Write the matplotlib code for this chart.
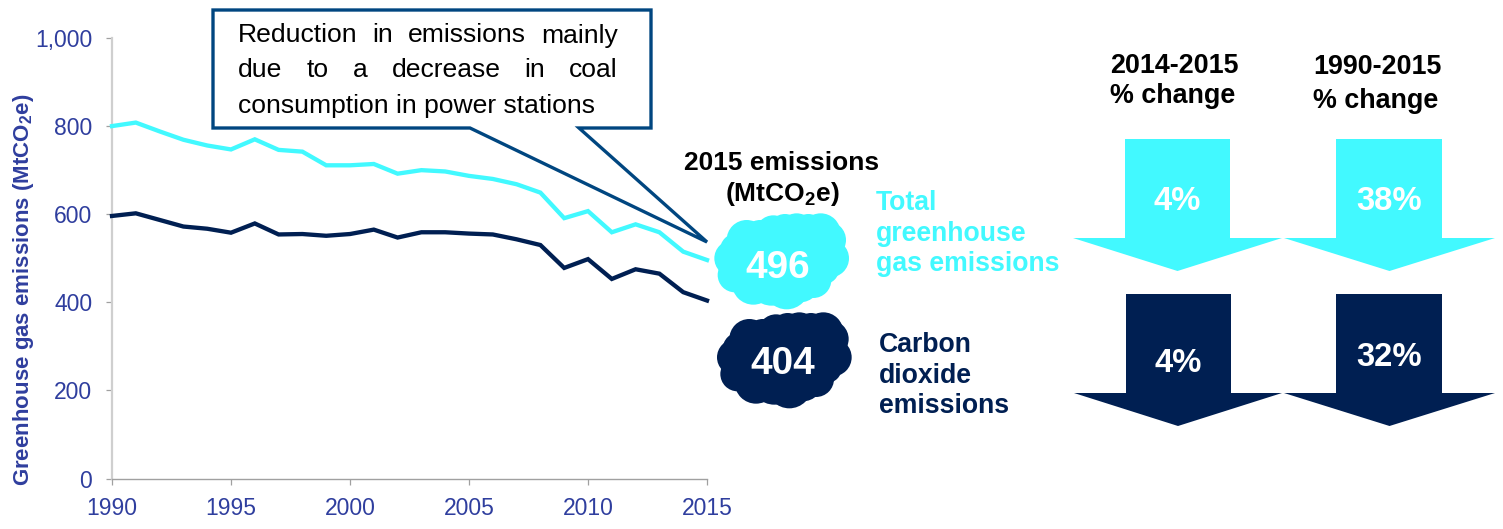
import matplotlib
matplotlib.use("Agg")
import matplotlib.pyplot as plt
from matplotlib.patches import Polygon, Circle

plt.rcParams['font.family'] = ['Liberation Sans', 'DejaVu Sans']
plt.rcParams['mathtext.fontset'] = 'custom'
plt.rcParams['mathtext.rm'] = 'Liberation Sans'
plt.rcParams['mathtext.bf'] = 'Liberation Sans:bold'

years = list(range(1990, 2016))
total_ghg = [800, 808, 788, 769, 756, 747, 770, 746, 742, 711, 711, 714, 692, 700, 697, 687, 680, 668, 649, 591, 607, 559, 577, 559, 515, 496]
carbon_dioxide = [596, 602, 587, 572, 567, 558, 579, 554, 555, 551, 555, 565, 547, 559, 559, 556, 554, 543, 530, 478, 498, 453, 475, 465, 423, 404]
y_ticks = [0, 200, 400, 600, 800, 1000]
y_tick_labels = ['0', '200', '400', '600', '800', '1,000']
x_ticks = [1990, 1995, 2000, 2005, 2010, 2015]
total_2015 = '496'
co2_2015 = '404'
changes_total = ['4%', '38%']
changes_co2 = ['4%', '32%']

W, H = 1503, 529
CYAN = '#42F9FF'
NAVY = '#001F52'
TICKTXT = '#2F3E9E'
BOX = '#004680'

fig = plt.figure(figsize=(W / 100, H / 100), dpi=100)
ax = fig.add_axes([112 / W, 1 - 478.5 / H, (707 - 112) / W, (478.5 - 38) / H])
ax.plot(years, total_ghg, color=CYAN, lw=3.1, solid_joinstyle='miter', clip_on=False, zorder=3)
ax.plot(years, carbon_dioxide, color=NAVY, lw=3.1, solid_joinstyle='miter', clip_on=False, zorder=3)
ax.set_xlim(1990, 2015)
ax.set_ylim(0, 1000)
ax.set_xticks(x_ticks)
ax.set_yticks(y_ticks)
ax.set_yticklabels(y_tick_labels)
for s in ('top', 'right'):
    ax.spines[s].set_visible(False)
ax.spines['left'].set_color('#CFCFCF')
ax.spines['left'].set_linewidth(1.6)
ax.spines['bottom'].set_color('#A0A0A0')
ax.spines['bottom'].set_linewidth(1.0)
ax.tick_params(axis='both', colors='#A0A0A0', length=4.5, width=0.9, labelsize=16.5, labelcolor=TICKTXT)
ax.tick_params(axis='y', pad=9.7)
ax.tick_params(axis='x', pad=9)
fig.text(24 / W, 1 - 290 / H, r'Greenhouse gas emissions (MtCO$_{\mathbf{2}}$e)', rotation=90,
         color=TICKTXT, fontsize=16, fontweight='bold', ha='center', va='center')

ov = fig.add_axes([0, 0, 1, 1], zorder=5)
ov.set_xlim(0, W)
ov.set_ylim(H, 0)
ov.axis('off')
ov.patch.set_alpha(0)

# callout
ov.add_patch(Polygon([(213, 10), (651, 10), (651, 128), (579, 128), (707, 242), (470, 128), (213, 128)],
                     closed=True, fc='none', ec=BOX, lw=2.4, joinstyle='miter'))

renderer = fig.canvas.get_renderer()
def justified(words, x0, x1, y, size):
    items = [ov.text(x0, y, w, fontsize=size, color='black', ha='left', va='center_baseline') for w in words]
    widths = [t.get_window_extent(renderer).width for t in items]
    gap = (x1 - x0 - sum(widths)) / (len(words) - 1)
    x = x0
    for t, w in zip(items, widths):
        t.set_x(x)
        x += w + gap

justified(['Reduction', 'in', 'emissions', 'mainly'], 238, 618, 33, 19.05)
justified(['due', 'to', 'a', 'decrease', 'in', 'coal'], 238, 618, 67.5, 19.05)
ov.text(238, 103, 'consumption in power stations', fontsize=19.05, color='black', ha='left', va='center_baseline')

# clouds
lobes = [(140, 300, 60), (220, 280, 54), (290, 274, 54), (362, 280, 60), (382, 300, 56), (390, 355, 57),
         (340, 420, 54), (260, 440, 68), (160, 430, 64), (105, 405, 52), (97, 355, 54), (240, 360, 125),
         (170, 340, 95), (320, 340, 95), (300, 300, 70), (370, 385, 48), (130, 370, 75),
         (180, 290, 50), (255, 272, 50), (325, 270, 48), (215, 425, 72), (300, 425, 62), (110, 330, 50)]
def cloud(dx, dy, color):
    for x, y, r in lobes:
        ov.add_patch(Circle((700 + (x + dx) / 3, 140 + (y + dy) / 3), r / 3, fc=color, ec='none'))
cloud(0, 0, CYAN)
cloud(8, 297, NAVY)
ov.text(778, 268, total_2015, color='white', fontsize=27.8, fontweight='bold', ha='center', va='center', zorder=6)
ov.text(782.5, 364, co2_2015, color='white', fontsize=27.8, fontweight='bold', ha='center', va='center', zorder=6)

ov.text(782, 163, '2015 emissions', color='black', fontsize=19, fontweight='bold', ha='center', va='center')
ov.text(782, 194, r'(MtCO$_{\mathbf{2}}$e)', color='black', fontsize=19, fontweight='bold', ha='center', va='center')

for txt, y in [('Total', 203), ('greenhouse', 234), ('gas emissions', 264)]:
    ov.text(876, y, txt, color=CYAN, fontsize=19.2, fontweight='bold', ha='left', va='center')
for txt, y in [('Carbon', 345), ('dioxide', 376), ('emissions', 406)]:
    ov.text(879, y, txt, color=NAVY, fontsize=19.2, fontweight='bold', ha='left', va='center')

for txt, y in [('2014-2015', 66), ('% change', 96)]:
    ov.text(1110, y, txt, color='black', fontsize=19.4, fontweight='bold', ha='left', va='center')
for txt, y in [('1990-2015', 67), ('% change', 101)]:
    ov.text(1313, y, txt, color='black', fontsize=19.4, fontweight='bold', ha='left', va='center')

def arrow(x0, x1, top, neck, hl, hr, tip, color):
    cx = (hl + hr) / 2
    ov.add_patch(Polygon([(x0, top), (x1, top), (x1, neck), (hr, neck), (cx, tip), (hl, neck), (x0, neck)],
                         closed=True, fc=color, ec='none'))
arrow(1125, 1230, 139, 238, 1073, 1282, 271, CYAN)
arrow(1336, 1442, 139, 238, 1284, 1495, 271, CYAN)
arrow(1126, 1231, 294, 393, 1074, 1282, 426, NAVY)
arrow(1336, 1442, 294, 393, 1284, 1495, 426, NAVY)
ov.text(1177, 201, changes_total[0], color='white', fontsize=23.6, fontweight='bold', ha='center', va='center')
ov.text(1389, 201, changes_total[1], color='white', fontsize=23.6, fontweight='bold', ha='center', va='center')
ov.text(1178, 363, changes_co2[0], color='white', fontsize=23.6, fontweight='bold', ha='center', va='center')
ov.text(1389, 357, changes_co2[1], color='white', fontsize=23.6, fontweight='bold', ha='center', va='center')

fig.savefig('out.png', dpi=100)
